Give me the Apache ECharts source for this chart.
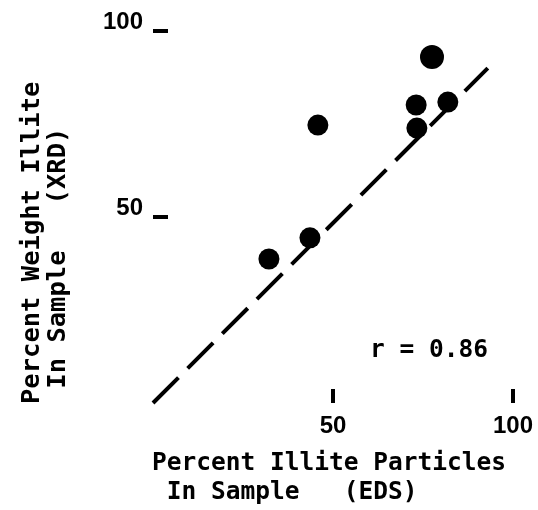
<!DOCTYPE html>
<html>
<head>
<meta charset="utf-8">
<script src="https://cdn.jsdelivr.net/npm/echarts@6/dist/echarts.min.js"></script>
<style>
html,body{margin:0;padding:0;background:#fff;}
#chart{width:538px;height:510px;}
</style>
</head>
<body>
<div id="chart"></div>
<script>
// Data
var edsPercent = [77.5, 73.1, 81.9, 73.3, 45.8, 43.6, 32.2];
var xrdPercent = [93.0, 80.1, 80.9, 73.9, 74.7, 44.4, 38.7];
var markerSizes = [24, 21, 21, 21, 21, 21, 21];
var fitLineX = [0, 93];
var fitLineY = [0, 90];
var xTickValues = [50, 100];
var yTickValues = [50, 100];
var xTitleLines = ['Percent Illite Particles', ' In Sample   (EDS)'];
var yTitleLines = ['Percent Weight Illite', ' In Sample   (XRD)'];
var rText = 'r = 0.86';

var pts = edsPercent.map(function (x, i) { return [x, xrdPercent[i], markerSizes[i]]; });
var linePts = fitLineX.map(function (x, i) { return [x, fitLineY[i]]; });

var monoFont = '"DejaVu Sans Mono", monospace';
var chart = echarts.init(document.getElementById('chart'));
chart.setOption({
  backgroundColor: '#fff',
  animation: false,
  grid: { left: 153, right: 25, top: 31, bottom: 107 },
  xAxis: {
    type: 'value', min: 0, max: 100, interval: 50,
    axisLine: { show: false },
    splitLine: { show: false },
    axisTick: { show: true, inside: true, length: 14, customValues: xTickValues,
      lineStyle: { color: '#000', width: 4 } },
    axisLabel: { customValues: xTickValues, color: '#000', margin: 11,
      fontFamily: '"Liberation Sans", sans-serif', fontSize: 24, fontWeight: 'bold' }
  },
  yAxis: {
    type: 'value', min: 0, max: 100, interval: 50,
    axisLine: { show: false },
    splitLine: { show: false },
    axisTick: { show: true, inside: true, length: 15, customValues: yTickValues,
      lineStyle: { color: '#000', width: 4 } },
    axisLabel: { customValues: yTickValues, color: '#000', margin: 10, verticalAlign: 'bottom',
      padding: [0, 0, -3, 0],
      fontFamily: '"Liberation Sans", sans-serif', fontSize: 24, fontWeight: 'bold' }
  },
  series: [
    {
      type: 'line', data: linePts, symbol: 'none', z: 1,
      lineStyle: { color: '#000', width: 4, type: [36, 13], cap: 'butt' }
    },
    {
      type: 'scatter', data: pts, z: 2,
      symbolSize: function (v) { return v[2]; },
      itemStyle: { color: '#000', opacity: 1 }
    }
  ],
  graphic: [
    { type: 'text', x: 152, y: 464, style: { text: xTitleLines[0], fill: '#000',
      font: 'bold 24.5px ' + monoFont, textAlign: 'left', textVerticalAlign: 'middle' } },
    { type: 'text', x: 152, y: 493, style: { text: xTitleLines[1], fill: '#000',
      font: 'bold 24.5px ' + monoFont, textAlign: 'left', textVerticalAlign: 'middle' } },
    { type: 'text', x: 32, y: 404, rotation: Math.PI / 2, style: { text: yTitleLines[0], fill: '#000',
      font: 'bold 25.5px ' + monoFont, textAlign: 'left', textVerticalAlign: 'middle' } },
    { type: 'text', x: 58, y: 404, rotation: Math.PI / 2, style: { text: yTitleLines[1], fill: '#000',
      font: 'bold 25.5px ' + monoFont, textAlign: 'left', textVerticalAlign: 'middle' } },
    { type: 'text', x: 370, y: 351, style: { text: rText, fill: '#000',
      font: 'bold 24.5px ' + monoFont, textAlign: 'left', textVerticalAlign: 'middle' } }
  ]
});
</script>
</body>
</html>
